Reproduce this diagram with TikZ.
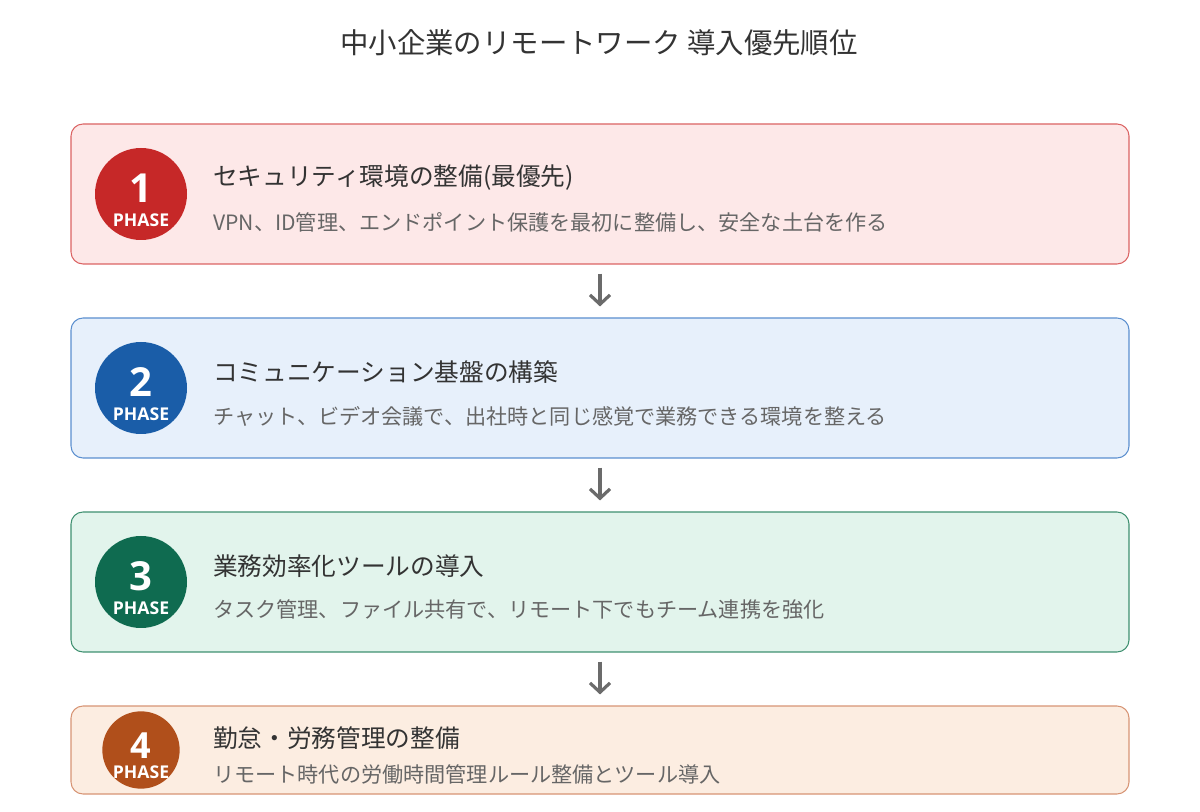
\documentclass[tikz,border=0pt]{standalone}
\usepackage{fontspec}
\setmainfont{Noto Sans CJK JP}
\newfontfamily\numfont{Open Sans}
\usetikzlibrary{arrows.meta}
\definecolor{txtdark}{HTML}{333333}
\definecolor{txtgray}{HTML}{666666}
\definecolor{arrgray}{HTML}{6B6B6B}
\definecolor{fillA}{HTML}{FDE8E8}\definecolor{drawA}{HTML}{DB6363}\definecolor{circA}{HTML}{C62828}
\definecolor{fillB}{HTML}{E7F0FB}\definecolor{drawB}{HTML}{5B8FCF}\definecolor{circB}{HTML}{1A5DA8}
\definecolor{fillC}{HTML}{E2F4EC}\definecolor{drawC}{HTML}{3F9070}\definecolor{circC}{HTML}{0F6B50}
\definecolor{fillD}{HTML}{FCEDE1}\definecolor{drawD}{HTML}{D79474}\definecolor{circD}{HTML}{B04F1B}
\tikzset{
  phasebox/.style={rounded corners=9pt, line width=0.8pt, minimum width=793.5pt, inner sep=0pt},
  phasecirc/.style={circle, inner sep=0pt, minimum size=69pt},
  numtxt/.style={text=white, font=\numfont\bfseries\fontsize{30}{30}\selectfont, inner sep=0pt},
  phasetxt/.style={text=white, font=\numfont\bfseries\fontsize{13.2}{13.2}\selectfont, inner sep=0pt},
  headtxt/.style={anchor=west, text=txtdark, font=\fontsize{18.5}{18.5}\selectfont, inner sep=0pt},
  subtxt/.style={anchor=west, text=txtgray, font=\fontsize{15.85}{15.85}\selectfont, inner sep=0pt},
  arr/.style={draw=arrgray, line width=2.4pt, -{Straight Barb[length=7pt, width=15pt, line width=2.4pt]}},
}
\begin{document}
\begin{tikzpicture}[x=0.75pt,y=-0.75pt]
\useasboundingbox (0,0) rectangle (1200,812);
\node[text=txtdark, font=\fontsize{21.3}{21.3}\selectfont, inner sep=0pt] (title) at (599,43) {中小企業のリモートワーク 導入優先順位};

% Box 1
\node[phasebox, fill=fillA, draw=drawA, minimum height=105pt] (b1) at (600,194) {};
\node[phasecirc, fill=circA] (c1) at (141,194) {};
\node[numtxt] (n1) at (141,188) {1};
\node[phasetxt] (p1) at (141,220) {PHASE};
\node[headtxt] (h1) at (213,178) {セキュリティ環境の整備(最優先)};
\node[subtxt] (s1) at (213,222) {VPN、ID管理、エンドポイント保護を最初に整備し、安全な土台を作る};

% Box 2
\node[phasebox, fill=fillB, draw=drawB, minimum height=105pt] (b2) at (600,388) {};
\node[phasecirc, fill=circB] (c2) at (141,388) {};
\node[numtxt] (n2) at (141,382) {2};
\node[phasetxt] (p2) at (141,414) {PHASE};
\node[headtxt] (h2) at (213,372) {コミュニケーション基盤の構築};
\node[subtxt] (s2) at (213,416) {チャット、ビデオ会議で、出社時と同じ感覚で業務できる環境を整える};

% Box 3
\node[phasebox, fill=fillC, draw=drawC, minimum height=105pt] (b3) at (600,582) {};
\node[phasecirc, fill=circC] (c3) at (141,582) {};
\node[numtxt] (n3) at (141,576) {3};
\node[phasetxt] (p3) at (141,608) {PHASE};
\node[headtxt] (h3) at (213,566) {業務効率化ツールの導入};
\node[subtxt] (s3) at (213,610) {タスク管理、ファイル共有で、リモート下でもチーム連携を強化};

% Box 4
\node[phasebox, fill=fillD, draw=drawD, minimum height=66pt] (b4) at (600,750) {};
\node[phasecirc, fill=circD, minimum size=58pt] (c4) at (141,750) {};
\node[numtxt, font=\numfont\bfseries\fontsize{27}{27}\selectfont] (n4) at (141,746) {4};
\node[phasetxt] (p4) at (141,772) {PHASE};
\node[headtxt] (h4) at (213,738) {勤怠・労務管理の整備};
\node[subtxt] (s4) at (213,774) {リモート時代の労働時間管理ルール整備とツール導入};

% Arrows
\draw[arr] ([yshift=-6.75pt]b1.south) -- ([yshift=8.25pt]b2.north);
\draw[arr] ([yshift=-6.75pt]b2.south) -- ([yshift=8.25pt]b3.north);
\draw[arr] ([yshift=-6.75pt]b3.south) -- ([yshift=8.25pt]b4.north);
\end{tikzpicture}
\end{document}
